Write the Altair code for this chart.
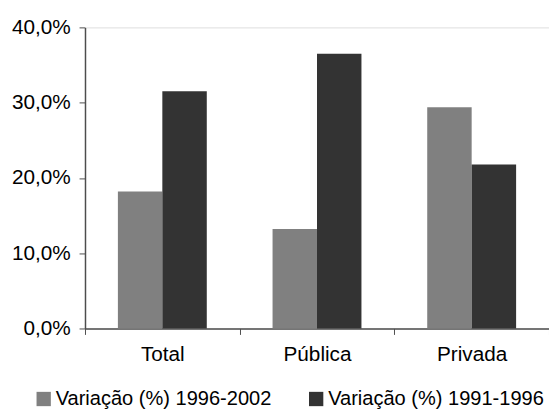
import altair as alt
import pandas as pd

categories = ["Total", "Pública", "Privada"]
series_names = ["Variação (%) 1996-2002", "Variação (%) 1991-1996"]
values_1996_2002 = [0.182, 0.132, 0.294]
values_1991_1996 = [0.315, 0.365, 0.218]
colors = ["#808080", "#333333"]

rows = []
for c, v in zip(categories, values_1996_2002):
    rows.append({"categoria": c, "serie": series_names[0], "valor": v})
for c, v in zip(categories, values_1991_1996):
    rows.append({"categoria": c, "serie": series_names[1], "valor": v})
df = pd.DataFrame(rows)

FONT = "Liberation Sans"
FS = 21
LFS = 20.3

chart = alt.Chart(df).mark_bar().encode(
    x=alt.X("categoria:N", sort=categories, title=None,
            scale=alt.Scale(paddingInner=0, paddingOuter=0),
            axis=alt.Axis(labelAngle=0, tickBand="extent", labelFont=FONT,
                          labelFontSize=FS, labelColor="#000000", labelPadding=9,
                          domainColor="#4d4d4d", tickColor="#4d4d4d", tickSize=6,
                          domainWidth=1.5)),
    xOffset=alt.XOffset("serie:N", sort=series_names,
                        scale=alt.Scale(paddingInner=0, paddingOuter=0.74)),
    y=alt.Y("valor:Q", title=None,
            scale=alt.Scale(domain=[0, 0.4], nice=False),
            axis=alt.Axis(values=[0, 0.1, 0.2, 0.3, 0.4], grid=False,
                          labelExpr="replace(format(datum.value, '.1%'), '.', ',')",
                          labelFont=FONT, labelFontSize=FS, labelColor="#000000",
                          labelPadding=9, domainColor="#4d4d4d", tickColor="#4d4d4d",
                          tickSize=6, domainWidth=1.5)),
    color=alt.Color("serie:N", sort=series_names,
                    scale=alt.Scale(domain=series_names, range=colors),
                    legend=alt.Legend(title=None, orient="none", direction="horizontal",
                                      legendX=-52, legendY=366, symbolType="square",
                                      symbolSize=210, symbolStrokeWidth=0,
                                      labelFont=FONT, labelFontSize=LFS, labelLimit=0,
                                      labelColor="#000000", columnPadding=35,
                                      labelOffset=2)),
).properties(
    width=470, height=305,
    padding={"left": 78, "top": 17, "right": 0, "bottom": 85},
    autosize=alt.AutoSizeParams(type="none"),
).configure_view(stroke=None).configure(background="#ffffff")

chart.save("out.html", embed_options={"renderer": "svg", "actions": False})
